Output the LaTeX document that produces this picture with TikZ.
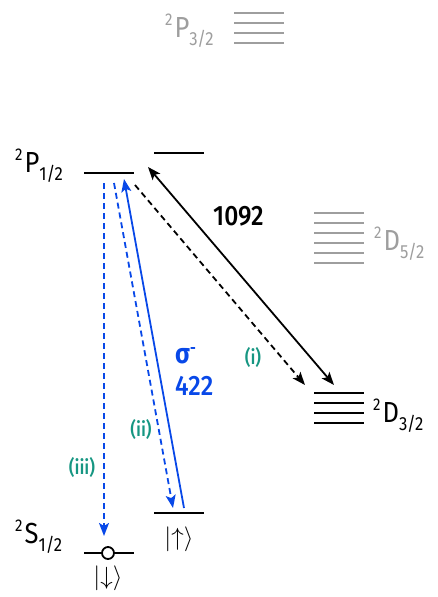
\documentclass[tikz,border=0pt]{standalone}
\usepackage{fontspec}
\setmainfont{Fira Sans}[FakeStretch=0.88]
\newfontfamily\medf{Fira Sans Medium}[FakeStretch=0.88]
\usetikzlibrary{arrows.meta}
\definecolor{lgray}{RGB}{158,158,158}
\definecolor{tblue}{RGB}{8,72,232}
\definecolor{tteal}{RGB}{22,150,130}
\newcommand\termlbl[2]{\raisebox{12pt}{\fontsize{17}{17}\selectfont 2}\hspace{2pt}#1\raisebox{-8pt}{\fontsize{19}{19}\selectfont #2}}
\begin{document}
\begin{tikzpicture}[x=1pt,y=-1pt,
  lvl/.style={line width=2pt},
  glvl/.style={line width=2pt, draw=lgray},
  tr/.style={line width=1.8pt, -{Stealth[length=13pt,width=10pt,inset=3pt]}},
  dsh/.style={dash pattern=on 6pt off 4pt},
  lbl/.style={inner sep=0pt, anchor=base west, font=\fontsize{29}{29}\selectfont},
  num/.style={inner sep=0pt, anchor=base west, font=\fontsize{28}{28}\medf},
  tag/.style={inner sep=0pt, text=tteal, font=\fontsize{20}{20}\medf},
  ket/.style={inner sep=0pt, font=\fontsize{31}{31}\selectfont}]
\useasboundingbox (0,0) rectangle (437,597);
% P3/2
\foreach \y in {13,23,33,43} \draw[glvl] (234,\y) -- (284,\y);
\node[lbl, text=lgray] (lP32) at (165,37) {\termlbl{P}{3/2}};
% P1/2
\draw[lvl] (84,173) -- (134,173);
\draw[lvl] (154,153) -- (204,153);
\node[lbl] (lP12) at (15,172) {\termlbl{P}{1/2}};
% D5/2
\foreach \y in {213,223,233,243,253,263} \draw[glvl] (314,\y) -- (364,\y);
\node[lbl, text=lgray] (lD52) at (374,250) {\termlbl{D}{5/2}};
% D3/2
\foreach \y in {393,403,413,423} \draw[lvl] (314,\y) -- (364,\y);
\node[lbl] (lD32) at (373,422) {\termlbl{D}{3/2}};
% S1/2
\draw[lvl] (84,553) -- (134,553);
\draw[lvl] (154,513) -- (204,513);
\node[draw, circle, line width=1.8pt, fill=white, minimum size=12pt, inner sep=0pt] (dn) at (108,553) {};
\node[lbl] (lS12) at (15,543) {\termlbl{S}{1/2}};
\node[ket] (kdn) at (108,578) {$|{\downarrow}\rangle$};
\node[ket] (kup) at (179,539) {$|{\uparrow}\rangle$};
% arrow end points
\coordinate (a1) at (104,183); \coordinate (a2) at (104,536);
\coordinate (b1) at (114,183); \coordinate (b2) at (173,508);
\coordinate (c1) at (184,508); \coordinate (c2) at (124,179);
\coordinate (d1) at (135,185); \coordinate (d2) at (305,385);
\coordinate (e1) at (148,167); \coordinate (e2) at (334,385);
\draw[tr, dsh, tblue] (a1) -- (a2);
\draw[tr, dsh, tblue] (b1) -- (b2);
\draw[tr, tblue] (c1) -- (c2);
\draw[tr, dsh, black] (d1) -- (d2);
\draw[line width=1.8pt, {Stealth[length=13pt,width=10pt,inset=3pt]}-{Stealth[length=13pt,width=10pt,inset=3pt]}] (e1) -- (e2);
% labels
\node[num] (n1092) at (213,225) {1092};
\node[num, text=tblue, font=\fontsize{28}{28}\selectfont\bfseries] (sig) at (175,363) {σ\raisebox{10pt}{\fontsize{16}{16}\selectfont -}};
\node[num, text=tblue] (n422) at (175,395) {422};
\node[tag] (ti) at (253,357) {(i)};
\node[tag] (tii) at (141,429) {(ii)};
\node[tag] (tiii) at (82,467) {(iii)};
\end{tikzpicture}
\end{document}
